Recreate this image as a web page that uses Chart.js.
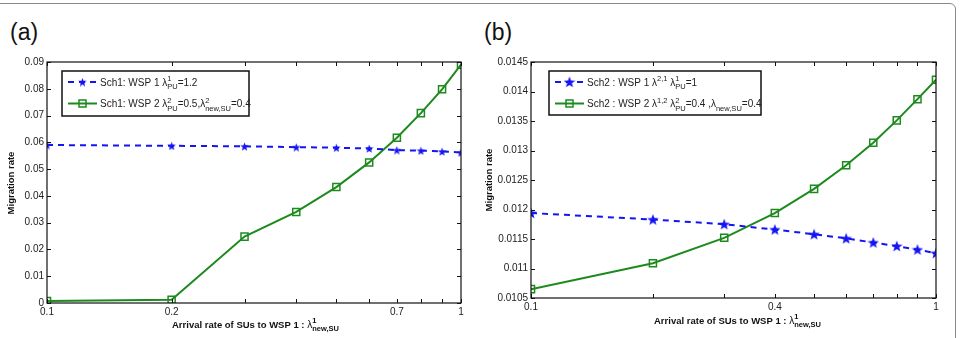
<!DOCTYPE html>
<html lang="en">
<head>
  <meta charset="UTF-8">
  <title>Migration rate</title>
  <script src="https://cdn.jsdelivr.net/npm/chart.js"></script>
  <style>
    body {
      margin: 0;
      background: #fff;
      font-family: "Liberation Sans", Arial, sans-serif;
    }
    #frame {
      position: absolute;
      left: -10px; top: 3px;
      width: 966px; height: 350px;
      border: 1.5px solid #8a8a8a;
      border-radius: 6px;
      box-sizing: border-box;
    }
    .panel {
      position: absolute;
      top: 0;
      height: 338px;
    }
    .tag {
      position: absolute;
      top: 19px;
      font-size: 23px;
      color: #111;
    }
  </style>
</head>
<body>
<div id="frame"></div>
<div class="tag" style="left:10px">(a)</div>
<div class="tag" style="left:484px">(b)</div>
<div class="panel" style="left:0;width:480px"><canvas id="chartA" width="480" height="338"></canvas></div>
<div class="panel" style="left:480px;width:482px"><canvas id="chartB" width="482" height="338"></canvas></div>

<script>
    // arrival rate of SUs to WSP 1 (same for both panels)
    const arrivalRates = [0.1, 0.2, 0.3, 0.4, 0.5, 0.6, 0.7, 0.8, 0.9, 1.0];

    // panel (a)
    const sch1Wsp1 = [0.0590, 0.0587, 0.0585, 0.0582, 0.0580, 0.0577, 0.0571, 0.0569, 0.0566, 0.0562];
    const sch1Wsp2 = [0.00075, 0.0012, 0.0248, 0.0340, 0.0433, 0.0525, 0.0617, 0.0709, 0.0798, 0.0890];
    const xLabelsA = [0.1, 0.2, 0.7, 1];

    // panel (b)
    const sch2Wsp1 = [0.01194, 0.01183, 0.01175, 0.01166, 0.01158, 0.01151, 0.01144, 0.01138, 0.01132, 0.01126];
    const sch2Wsp2 = [0.01065, 0.01109, 0.01152, 0.01194, 0.01235, 0.01275, 0.01313, 0.01351, 0.01387, 0.01420];
    const xLabelsB = [0.1, 0.4, 1];

    const BLUE = '#1414f5';
    const GREEN = '#1d8a1d';
    const FONT = '"Liberation Sans", Arial, sans-serif';

    // filled five point star, like matlab's pentagram marker
    function starImage(size) {
        const c = document.createElement('canvas');
        c.width = size; c.height = size;
        const ctx = c.getContext('2d');
        const cx = size / 2, cy = size / 2 + 0.5, R = size / 2, r = R * 0.42;
        ctx.beginPath();
        for (let i = 0; i < 10; i++) {
            const rad = i % 2 === 0 ? R : r;
            const a = -Math.PI / 2 + i * Math.PI / 5;
            ctx.lineTo(cx + rad * Math.cos(a), cy + rad * Math.sin(a));
        }
        ctx.closePath();
        ctx.fillStyle = BLUE;
        ctx.fill();
        return c;
    }

    // draw a line of text made of pieces {t, dy, size, back}
    function richText(ctx, parts, x, y) {
        let cx = x;
        let lastW = 0;
        parts.forEach(p => {
            ctx.font = (p.bold ? 'bold ' : '') + p.size + 'px ' + FONT;
            if (p.back) cx -= lastW;   // stack under previous piece
            ctx.fillText(p.t, cx, y + (p.dy || 0));
            const w = ctx.measureText(p.t).width;
            if (p.back) cx += Math.max(w, lastW); else cx += w;
            lastW = w;
        });
    }

    // box, inward ticks, legend and axis titles
    const matlabLook = {
        id: 'matlabLook',
        afterDraw(chart, args, opts) {
            const ctx = chart.ctx;
            const a = chart.chartArea;
            const xs = chart.scales.x, ys = chart.scales.y;
            ctx.save();
            ctx.strokeStyle = '#111';
            ctx.lineWidth = 1.2;
            ctx.strokeRect(a.left, a.top, a.right - a.left, a.bottom - a.top);
            ctx.lineWidth = 1;
            const t = 4;
            ctx.beginPath();
            xs.ticks.forEach(tk => {
                const px = Math.round(xs.getPixelForValue(tk.value)) + 0.5;
                ctx.moveTo(px, a.bottom); ctx.lineTo(px, a.bottom - t);
                ctx.moveTo(px, a.top); ctx.lineTo(px, a.top + t);
            });
            ys.ticks.forEach(tk => {
                const py = Math.round(ys.getPixelForValue(tk.value)) + 0.5;
                ctx.moveTo(a.left, py); ctx.lineTo(a.left + t, py);
                ctx.moveTo(a.right, py); ctx.lineTo(a.right - t, py);
            });
            ctx.stroke();

            // legend box
            const L = opts.legend;
            ctx.fillStyle = '#fff';
            ctx.fillRect(L.x, L.y, L.w, L.h);
            ctx.strokeStyle = '#111';
            ctx.lineWidth = 1.5;
            ctx.strokeRect(L.x, L.y, L.w, L.h);
            chart.data.datasets.forEach((ds, i) => {
                const ry = L.y + 11 + i * 21.5;
                ctx.strokeStyle = ds.borderColor;
                ctx.lineWidth = 2;
                ctx.setLineDash(ds.borderDash || []);
                ctx.beginPath();
                ctx.moveTo(L.x + 6, ry); ctx.lineTo(L.x + 35, ry);
                ctx.stroke();
                ctx.setLineDash([]);
                const mx = L.x + 20.5;
                if (ds.pointStyle instanceof HTMLCanvasElement) {
                    const s = ds.pointStyle.width;
                    ctx.drawImage(ds.pointStyle, mx - s / 2, ry - s / 2);
                } else {
                    ctx.lineWidth = 1.5;
                    ctx.strokeRect(mx - 3.5, ry - 3.5, 7, 7);
                }
                ctx.fillStyle = '#222';
                ctx.textBaseline = 'middle';
                ctx.textAlign = 'left';
                richText(ctx, opts.legendText[i], L.x + 38, ry + 1);
            });

            // axis titles
            ctx.fillStyle = '#111';
            ctx.textBaseline = 'middle';
            richText(ctx, opts.xTitle, opts.xTitlePos[0], opts.xTitlePos[1]);
            ctx.save();
            ctx.translate(opts.yTitlePos[0], opts.yTitlePos[1]);
            ctx.rotate(-Math.PI / 2);
            ctx.textAlign = 'center';
            ctx.font = 'bold 9.5px ' + FONT;
            ctx.fillText('Migration rate', 0, 0);
            ctx.restore();
            ctx.restore();
        }
    };

    function xTitleParts() {
        return [
            { t: 'Arrival rate of SUs to WSP 1 : ', size: 9.5, bold: true },
            { t: 'λ', size: 10 },
            { t: '1', size: 7.5, bold: true, dy: -4 },
            { t: 'new,SU', size: 7.5, bold: true, dy: 4, back: true }
        ];
    }

    function makeChart(id, cfg) {
        const ctx = document.getElementById(id).getContext('2d');
        return new Chart(ctx, {
            type: 'line',
            data: {
                labels: arrivalRates,
                datasets: [{
                    data: arrivalRates.map((x, i) => ({ x: x, y: cfg.blue[i] })),
                    borderColor: BLUE,
                    backgroundColor: BLUE,
                    borderWidth: 2,
                    borderDash: [6, 5],
                    pointStyle: starImage(cfg.starSize),
                    pointRadius: cfg.starSize / 2,
                    tension: 0
                }, {
                    data: arrivalRates.map((x, i) => ({ x: x, y: cfg.green[i] })),
                    borderColor: GREEN,
                    backgroundColor: 'rgba(0,0,0,0)',
                    borderWidth: 2,
                    pointStyle: 'rect',
                    pointRadius: 5,
                    pointBorderWidth: 1.5,
                    tension: 0
                }]
            },
            options: {
                responsive: false,
                animation: false,
                events: [],
                layout: { padding: cfg.padding },
                plugins: {
                    legend: { display: false },
                    tooltip: { enabled: false },
                    matlabLook: cfg.look
                },
                scales: {
                    x: {
                        type: 'logarithmic',
                        min: 0.1,
                        max: 1,
                        grid: { display: false, drawTicks: false },
                        border: { display: false },
                        afterBuildTicks: s => { s.ticks = arrivalRates.map(v => ({ value: v })); },
                        afterFit: s => { s.height = cfg.xAxisH; },
                        ticks: {
                            autoSkip: false,
                            maxRotation: 0,
                            padding: 3,
                            color: '#222',
                            font: { family: FONT, size: 10 },
                            callback: v => cfg.xLabels.some(l => Math.abs(l - v) < 1e-9) ? String(v) : ''
                        }
                    },
                    y: {
                        min: cfg.yMin,
                        max: cfg.yMax,
                        grid: { display: false, drawTicks: false },
                        border: { display: false },
                        afterFit: s => { s.width = cfg.yAxisW; },
                        ticks: {
                            stepSize: cfg.yStep,
                            padding: 3,
                            color: '#222',
                            font: { family: FONT, size: 10 },
                            callback: v => String(Number(v.toFixed(5)))
                        }
                    }
                }
            },
            plugins: [matlabLook]
        });
    }

    makeChart('chartA', {
        blue: sch1Wsp1, green: sch1Wsp2, xLabels: xLabelsA,
        yMin: 0, yMax: 0.09, yStep: 0.01, starSize: 9,
        padding: { left: 7, right: 19, top: 62, bottom: 0 },
        yAxisW: 40, xAxisH: 35,
        look: {
            legend: { x: 62, y: 71, w: 187, h: 45 },
            legendText: [
                [{ t: 'Sch1: WSP 1 ', size: 10 }, { t: 'λ', size: 10 },
                 { t: '1', size: 7.5, dy: -4 }, { t: 'PU', size: 7.5, dy: 4, back: true },
                 { t: '=1.2', size: 10 }],
                [{ t: 'Sch1: WSP 2 ', size: 10 }, { t: 'λ', size: 10 },
                 { t: '2', size: 7.5, dy: -4 }, { t: 'PU', size: 7.5, dy: 4, back: true },
                 { t: '=0.5,', size: 10 }, { t: 'λ', size: 10 },
                 { t: '2', size: 7.5, dy: -4 }, { t: 'new,SU', size: 7.5, dy: 4, back: true },
                 { t: '=0.4', size: 10 }]
            ],
            xTitle: xTitleParts(),
            xTitlePos: [172, 325],
            yTitlePos: [11, 183]
        }
    });

    makeChart('chartB', {
        blue: sch2Wsp1, green: sch2Wsp2, xLabels: xLabelsB,
        yMin: 0.0105, yMax: 0.0145, yStep: 0.0005, starSize: 12,
        padding: { left: 6, right: 26, top: 62, bottom: 0 },
        yAxisW: 45, xAxisH: 40,
        look: {
            legend: { x: 69, y: 71, w: 212, h: 44 },
            legendText: [
                [{ t: 'Sch2 : WSP 1 ', size: 10 }, { t: 'λ', size: 10 },
                 { t: '2,1', size: 7.5, dy: -4 }, { t: ' ', size: 10 }, { t: 'λ', size: 10 },
                 { t: '1', size: 7.5, dy: -4 }, { t: 'PU', size: 7.5, dy: 4, back: true },
                 { t: '=1', size: 10 }],
                [{ t: 'Sch2 : WSP 2 ', size: 10 }, { t: 'λ', size: 10 },
                 { t: '1,2', size: 7.5, dy: -4 }, { t: ' ', size: 10 }, { t: 'λ', size: 10 },
                 { t: '2', size: 7.5, dy: -4 }, { t: 'PU', size: 7.5, dy: 4, back: true },
                 { t: '=0.4 ,', size: 10 }, { t: 'λ', size: 10 },
                 { t: 'new,SU', size: 7.5, dy: 4 }, { t: '=0.4', size: 10 }]
            ],
            xTitle: xTitleParts(),
            xTitlePos: [174, 321],
            yTitlePos: [9, 180]
        }
    });
</script>
</body>
</html>
